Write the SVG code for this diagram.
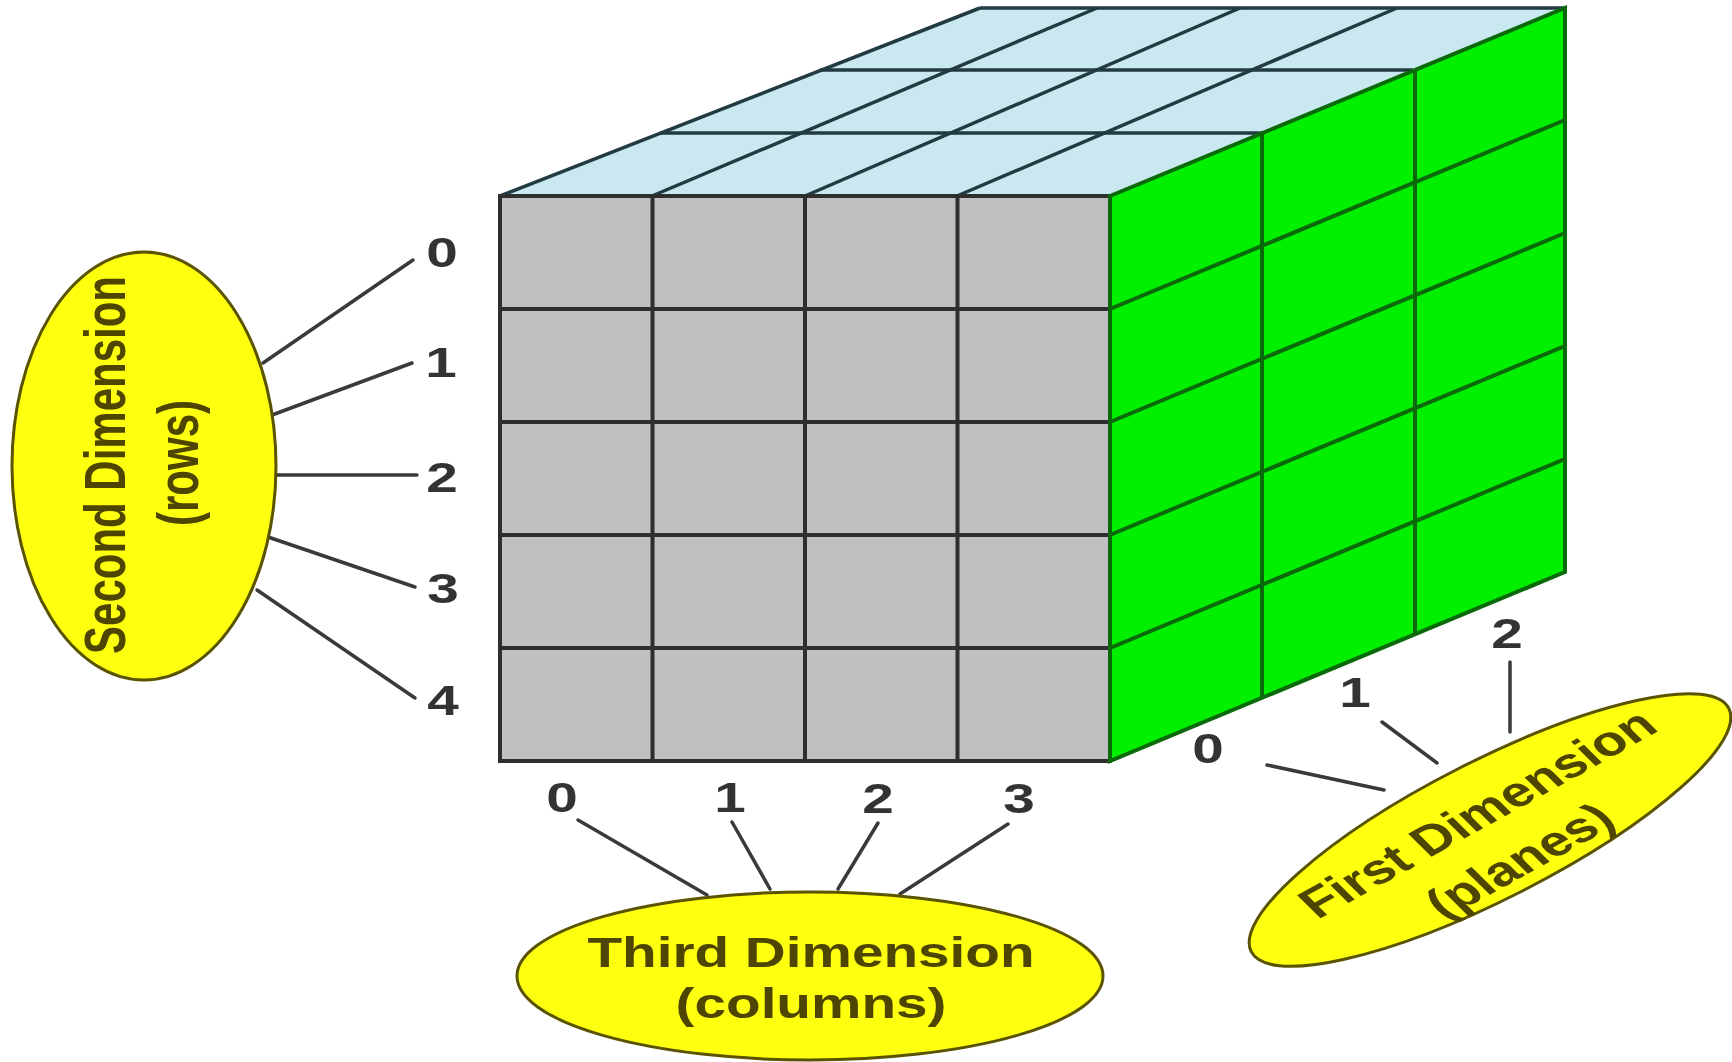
<svg xmlns="http://www.w3.org/2000/svg" width="1732" height="1062" viewBox="0 0 1732 1062">
<style>
.bg{fill:#ffffff}
.front{fill:#c0c0c0}
.top{fill:#c9e8f0}
.side{fill:#00f000}
.gl{stroke:#2e2e2e;stroke-width:4;fill:none;stroke-linecap:square}
.tl{stroke:#223a42;stroke-width:3.5;fill:none}
.sl{stroke:#0a6a0a;stroke-width:4;fill:none}
.ell{fill:#ffff10;stroke:#5a5400;stroke-width:3}
.lbl{font-family:"Liberation Sans",Arial,sans-serif;font-weight:bold;font-size:42px;fill:#4d4500;text-anchor:middle}
.num{font-family:"Liberation Sans",Arial,sans-serif;font-weight:bold;font-size:42px;fill:#333333;text-anchor:middle}
.con{stroke:#3a3a3a;stroke-width:3.5;fill:none;stroke-linecap:round}
</style>
<rect class="bg" x="0" y="0" width="1732" height="1062"/>

<g id="cube">
  <g id="top-face">
    <polygon class="top" points="500,196 1110,196 1565,8 980,8"/>
    <line class="tl" x1="652" y1="196" x2="1097" y2="8"/>
    <line class="tl" x1="805" y1="196" x2="1240" y2="8"/>
    <line class="tl" x1="957" y1="196" x2="1397" y2="8"/>
    <line class="tl" x1="660" y1="133" x2="1262" y2="133"/>
    <line class="tl" x1="820" y1="70" x2="1413" y2="70"/>
    <line class="tl" x1="980" y1="8" x2="1565" y2="8"/>
    <line class="tl" x1="500" y1="196" x2="980" y2="8"/>
  </g>
  <g id="front-face">
    <rect class="front" x="500" y="196" width="610" height="565"/>
    <line class="gl" x1="652.5" y1="196" x2="652.5" y2="761"/>
    <line class="gl" x1="805" y1="196" x2="805" y2="761"/>
    <line class="gl" x1="957.5" y1="196" x2="957.5" y2="761"/>
    <line class="gl" x1="500" y1="309" x2="1110" y2="309"/>
    <line class="gl" x1="500" y1="422" x2="1110" y2="422"/>
    <line class="gl" x1="500" y1="535" x2="1110" y2="535"/>
    <line class="gl" x1="500" y1="648" x2="1110" y2="648"/>
    <rect class="gl" x="500" y="196" width="610" height="565"/>
  </g>
  <g id="side-face">
    <polygon class="side" points="1110,196 1565,8 1565,572 1110,761"/>
    <line class="sl" x1="1262" y1="133" x2="1262" y2="698"/>
    <line class="sl" x1="1415" y1="70" x2="1415" y2="635"/>
    <line class="sl" x1="1110" y1="309" x2="1565" y2="120"/>
    <line class="sl" x1="1110" y1="422" x2="1565" y2="233"/>
    <line class="sl" x1="1110" y1="535" x2="1565" y2="346"/>
    <line class="sl" x1="1110" y1="648" x2="1565" y2="459"/>
    <polygon class="sl" points="1110,196 1565,8 1565,572 1110,761"/>
  </g>
</g>

<g id="connectors">
  <line class="con" x1="413" y1="260" x2="263" y2="363"/>
  <line class="con" x1="412" y1="363" x2="272" y2="415"/>
  <line class="con" x1="417" y1="475" x2="274" y2="475"/>
  <line class="con" x1="415" y1="587" x2="268" y2="537"/>
  <line class="con" x1="415" y1="698" x2="257" y2="590"/>
  <line class="con" x1="578" y1="820" x2="707" y2="895"/>
  <line class="con" x1="732" y1="822" x2="770" y2="889"/>
  <line class="con" x1="878" y1="823" x2="838" y2="889"/>
  <line class="con" x1="1008" y1="824" x2="900" y2="894"/>
  <line class="con" x1="1267" y1="765" x2="1384" y2="790"/>
  <line class="con" x1="1382" y1="722" x2="1437" y2="763"/>
  <line class="con" x1="1510" y1="662" x2="1510" y2="732"/>
</g>

<g id="row-indices">
  <text class="num" transform="translate(442,267) scale(1.35,1)">0</text>
  <text class="num" transform="translate(441,377) scale(1.35,1)">1</text>
  <text class="num" transform="translate(442,492) scale(1.35,1)">2</text>
  <text class="num" transform="translate(443,603) scale(1.35,1)">3</text>
  <text class="num" transform="translate(443,715) scale(1.35,1)">4</text>
</g>
<g id="column-indices">
  <text class="num" transform="translate(562,812) scale(1.35,1)">0</text>
  <text class="num" transform="translate(730,812) scale(1.35,1)">1</text>
  <text class="num" transform="translate(878,813) scale(1.35,1)">2</text>
  <text class="num" transform="translate(1019,813) scale(1.35,1)">3</text>
</g>
<g id="plane-indices">
  <text class="num" transform="translate(1208,763) scale(1.35,1)">0</text>
  <text class="num" transform="translate(1355,707) scale(1.35,1)">1</text>
  <text class="num" transform="translate(1507,648) scale(1.35,1)">2</text>
</g>

<g id="second-dimension">
  <ellipse class="ell" cx="144" cy="466" rx="132" ry="214"/>
  <text class="lbl" transform="translate(125,465) scale(1.35,1) rotate(-90)">Second Dimension</text>
  <text class="lbl" transform="translate(198,463) scale(1.35,1) rotate(-90)">(rows)</text>
</g>

<g id="third-dimension">
  <ellipse class="ell" cx="810" cy="976" rx="293" ry="84"/>
  <text class="lbl" transform="translate(811,967) scale(1.35,1)">Third Dimension</text>
  <text class="lbl" transform="translate(811,1018) scale(1.35,1)">(columns)</text>
</g>

<g id="first-dimension">
  <ellipse class="ell" cx="1490" cy="830" rx="268" ry="69" transform="rotate(-27 1490 830)"/>
  <text class="lbl" transform="translate(1489,825) scale(1.35,1) rotate(-36.8)">First Dimension</text>
  <text class="lbl" transform="translate(1531,872) scale(1.35,1) rotate(-36.8)">(planes)</text>
</g>
</svg>
